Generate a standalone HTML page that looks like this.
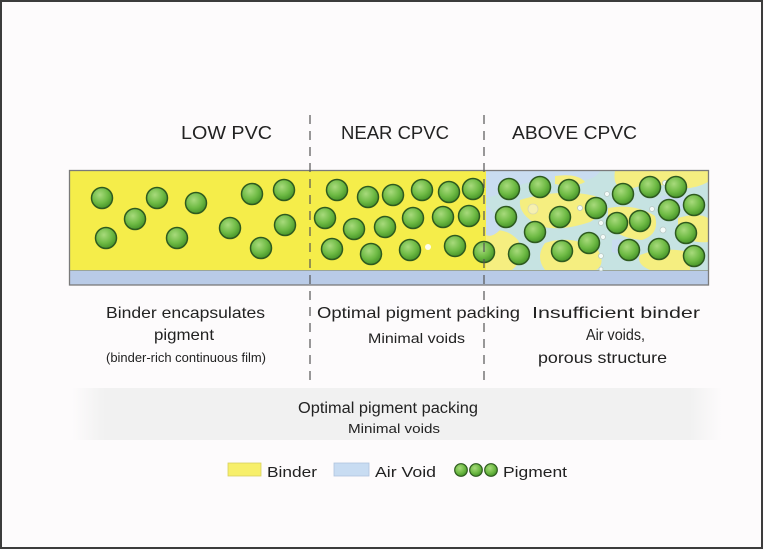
<!DOCTYPE html>
<html><head><meta charset="utf-8"><style>
html,body{margin:0;padding:0;background:#fdfbfc;}
svg{display:block;}
text{font-family:"Liberation Sans",sans-serif;fill:#222;}
</style></head><body>
<svg width="764" height="550" viewBox="0 0 764 550" xmlns="http://www.w3.org/2000/svg">
<defs>
<radialGradient id="g" cx="40%" cy="35%" r="65%">
<stop offset="0" stop-color="#a8da7c"/>
<stop offset="0.6" stop-color="#6fbb45"/>
<stop offset="1" stop-color="#48962a"/>
</radialGradient>
<linearGradient id="band" x1="0" x2="1" y1="0" y2="0">
<stop offset="0" stop-color="#fdfbfc"/>
<stop offset="0.05" stop-color="#f1f1f1"/>
<stop offset="0.95" stop-color="#f1f1f1"/>
<stop offset="1" stop-color="#fdfbfc"/>
</linearGradient>
<clipPath id="ac"><rect x="486" y="171" width="222" height="99"/></clipPath>
</defs>
<rect x="0" y="0" width="764" height="550" fill="#fdfbfc"/>
<rect x="1" y="1" width="761" height="547" fill="none" stroke="#3c3c3c" stroke-width="2"/>

<!-- bottom band -->
<rect x="72" y="388" width="650" height="52" fill="url(#band)"/>

<!-- strip -->
<rect x="69" y="170" width="640" height="100" fill="#f5ed4a"/>
<g clip-path="url(#ac)">
<rect x="486" y="171" width="222" height="99" fill="#c6e3e2"/>
<path d="M486 171 L600 171 Q595 182 570 180 Q540 178 520 185 Q500 195 486 198 Z" fill="#c9dcf0"/>
<path d="M520 200 Q560 188 595 196 Q610 210 590 222 Q560 232 540 226 Q518 215 520 200 Z" fill="#f5ee80"/>
<path d="M615 171 L708 171 L708 182 Q690 192 670 186 Q640 182 625 192 Q612 186 615 171 Z" fill="#f5ee80"/>
<path d="M486 232 Q505 226 518 240 Q526 258 512 270 L486 270 Z" fill="#f5ee80"/>
<path d="M545 243 Q572 234 598 250 Q606 264 596 270 L545 270 Q535 257 545 243 Z" fill="#f5ee80"/>
<path d="M608 208 Q635 203 655 216 Q660 234 642 240 Q618 238 608 225 Z" fill="#f5ee80"/>
<path d="M640 255 Q662 246 690 252 L690 270 L650 270 Q636 264 640 255 Z" fill="#f5ee80"/>
<path d="M678 218 Q698 212 708 218 L708 242 Q690 244 678 232 Z" fill="#f5ee80"/>
<path d="M555 176 Q578 173 585 182 Q575 188 555 184 Z" fill="#f5ee80"/>
<path d="M660 196 Q680 194 700 200 Q690 212 668 208 Z" fill="#c9dcf0"/>
<path d="M486 205 Q495 210 500 230 Q492 238 486 235 Z" fill="#c9dcf0"/>
<path d="M612 240 Q630 236 640 248 Q628 258 612 252 Z" fill="#c9dcf0"/>
</g>
<rect x="69" y="270" width="640" height="15" fill="#b9cbe7"/>
<line x1="69" y1="270.5" x2="709" y2="270.5" stroke="#9aa59a" stroke-width="1"/>
<rect x="69.5" y="170.5" width="639" height="114.5" fill="none" stroke="#7a7a7a" stroke-width="1.3"/>

<!-- bubbles -->
<g fill="#f4fbf8" stroke="#b8c8c4" stroke-width="0.8">
<circle cx="607" cy="194" r="2.5"/><circle cx="580" cy="208" r="2.5"/><circle cx="601" cy="223" r="2.5"/>
<circle cx="603" cy="237" r="2.5"/><circle cx="601" cy="256" r="2.5"/><circle cx="601" cy="269" r="2"/>
<circle cx="652" cy="209" r="2.5"/><circle cx="663" cy="230" r="3"/><circle cx="665" cy="183" r="2.5"/>
<circle cx="533" cy="209" r="5" fill="#f6f0b0" stroke="#d8d8b0"/>
</g>
<circle cx="428" cy="247" r="3" fill="#ffffff" opacity="0.9"/>

<!-- pigment circles -->
<g fill="url(#g)" stroke="#2e5a1f" stroke-width="1.5">
<circle cx="102" cy="198" r="10.5"/><circle cx="157" cy="198" r="10.5"/><circle cx="135" cy="219" r="10.5"/>
<circle cx="196" cy="203" r="10.5"/><circle cx="106" cy="238" r="10.5"/><circle cx="177" cy="238" r="10.5"/>
<circle cx="252" cy="194" r="10.5"/><circle cx="284" cy="190" r="10.5"/><circle cx="230" cy="228" r="10.5"/>
<circle cx="285" cy="225" r="10.5"/><circle cx="261" cy="248" r="10.5"/>

<circle cx="337" cy="190" r="10.5"/><circle cx="368" cy="197" r="10.5"/><circle cx="393" cy="195" r="10.5"/>
<circle cx="422" cy="190" r="10.5"/><circle cx="449" cy="192" r="10.5"/><circle cx="473" cy="189" r="10.5"/>
<circle cx="325" cy="218" r="10.5"/><circle cx="354" cy="229" r="10.5"/><circle cx="385" cy="227" r="10.5"/>
<circle cx="413" cy="218" r="10.5"/><circle cx="443" cy="217" r="10.5"/><circle cx="469" cy="216" r="10.5"/>
<circle cx="332" cy="249" r="10.5"/><circle cx="371" cy="254" r="10.5"/><circle cx="410" cy="250" r="10.5"/>
<circle cx="455" cy="246" r="10.5"/><circle cx="484" cy="252" r="10.5"/>

<circle cx="509" cy="189" r="10.5"/><circle cx="540" cy="187" r="10.5"/><circle cx="569" cy="190" r="10.5"/>
<circle cx="506" cy="217" r="10.5"/><circle cx="535" cy="232" r="10.5"/><circle cx="560" cy="217" r="10.5"/>
<circle cx="519" cy="254" r="10.5"/><circle cx="562" cy="251" r="10.5"/><circle cx="589" cy="243" r="10.5"/>
<circle cx="596" cy="208" r="10.5"/><circle cx="623" cy="194" r="10.5"/><circle cx="617" cy="223" r="10.5"/>
<circle cx="640" cy="221" r="10.5"/><circle cx="650" cy="187" r="10.5"/><circle cx="676" cy="187" r="10.5"/>
<circle cx="669" cy="210" r="10.5"/><circle cx="694" cy="205" r="10.5"/><circle cx="686" cy="233" r="10.5"/>
<circle cx="629" cy="250" r="10.5"/><circle cx="659" cy="249" r="10.5"/><circle cx="694" cy="256" r="10.5"/>
</g>

<!-- dashed dividers -->
<line x1="310" y1="115" x2="310" y2="382" stroke="#555" stroke-width="1.2" stroke-dasharray="9 7"/>
<line x1="484" y1="115" x2="484" y2="382" stroke="#555" stroke-width="1.2" stroke-dasharray="9 7"/>

<!-- headings -->
<text x="181" y="139" font-size="18" textLength="91" lengthAdjust="spacingAndGlyphs">LOW PVC</text>
<text x="341" y="139" font-size="18" textLength="108" lengthAdjust="spacingAndGlyphs">NEAR CPVC</text>
<text x="512" y="139" font-size="18" textLength="125" lengthAdjust="spacingAndGlyphs">ABOVE CPVC</text>

<!-- descriptions -->
<text x="106" y="318" font-size="16" textLength="159" lengthAdjust="spacingAndGlyphs">Binder encapsulates</text>
<text x="154" y="340" font-size="16" textLength="60" lengthAdjust="spacingAndGlyphs">pigment</text>
<text x="106" y="362" font-size="12.5" textLength="160" lengthAdjust="spacingAndGlyphs">(binder-rich continuous film)</text>

<text x="317" y="318" font-size="16" textLength="203" lengthAdjust="spacingAndGlyphs">Optimal pigment packing</text>
<text x="368" y="343" font-size="13.5" textLength="97" lengthAdjust="spacingAndGlyphs">Minimal voids</text>

<text x="532" y="318" font-size="16" textLength="168" lengthAdjust="spacingAndGlyphs">Insufficient binder</text>
<text x="586" y="340" font-size="16" textLength="59" lengthAdjust="spacingAndGlyphs">Air voids,</text>
<text x="538" y="363" font-size="16" textLength="129" lengthAdjust="spacingAndGlyphs">porous structure</text>

<!-- band text -->
<text x="298" y="413" font-size="15.5" textLength="180" lengthAdjust="spacingAndGlyphs">Optimal pigment packing</text>
<text x="348" y="433" font-size="13" textLength="92" lengthAdjust="spacingAndGlyphs">Minimal voids</text>

<!-- legend -->
<rect x="228" y="463" width="33" height="13" fill="#f7ef6a" stroke="#d8d060" stroke-width="0.8"/>
<text x="267" y="477" font-size="15" textLength="50" lengthAdjust="spacingAndGlyphs">Binder</text>
<rect x="334" y="463" width="35" height="13" fill="#c8dcf2" stroke="#b0c4dc" stroke-width="0.8"/>
<text x="375" y="477" font-size="15" textLength="61" lengthAdjust="spacingAndGlyphs" fill="#555">Air Void</text>
<g fill="url(#g)" stroke="#2e5a1f" stroke-width="1.2">
<circle cx="461" cy="470" r="6.3"/><circle cx="476" cy="470" r="6.3"/><circle cx="491" cy="470" r="6.3"/>
</g>
<text x="503" y="477" font-size="15" textLength="64" lengthAdjust="spacingAndGlyphs">Pigment</text>
</svg>
</body></html>
